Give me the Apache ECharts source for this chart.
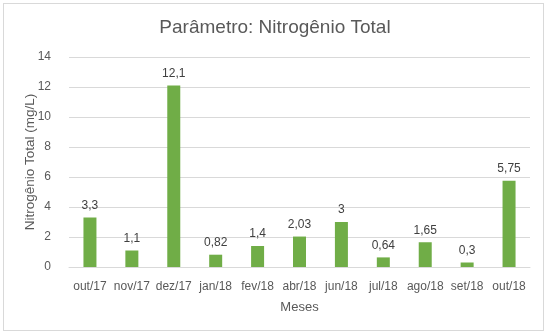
<!DOCTYPE html>
<html>
<head>
<meta charset="utf-8">
<script src="https://cdn.jsdelivr.net/npm/echarts@6/dist/echarts.min.js"></script>
<style>
  html, body { margin: 0; padding: 0; background: #fff; }
  #frame { position: absolute; left: 3px; top: 3px; width: 541px; height: 328px; border: 1px solid #D9D9D9; box-sizing: border-box; }
  #chart { width: 550px; height: 335px; position: absolute; left: 0; top: 0; }
</style>
</head>
<body>
<div id="frame"></div>
<div id="chart"></div>
<script>
// Monthly total nitrogen readings (mg/L)
const months = ['out/17', 'nov/17', 'dez/17', 'jan/18', 'fev/18', 'abr/18', 'jun/18', 'jul/18', 'ago/18', 'set/18', 'out/18'];
const nitrogen = [3.3, 1.1, 12.1, 0.82, 1.4, 2.03, 3, 0.64, 1.65, 0.3, 5.75];
const yTicks = [0, 2, 4, 6, 8, 10, 12, 14];

const font = '"Liberation Sans", Arial, sans-serif';
const chart = echarts.init(document.getElementById('chart'), null, { renderer: 'canvas' });

chart.setOption({
  animation: false,
  textStyle: { fontFamily: font },
  title: {
    text: 'Parâmetro: Nitrogênio Total',
    left: 'center',
    top: 13,
    textStyle: { fontFamily: font, fontSize: 19, fontWeight: 'normal', color: '#595959' }
  },
  grid: { left: 69, right: 20, top: 57, bottom: 68, containLabel: false },
  xAxis: {
    type: 'category',
    data: months,
    name: 'Meses',
    nameLocation: 'middle',
    nameGap: 34,
    nameMoveOverlap: false,
    nameTextStyle: { fontFamily: font, fontSize: 13, color: '#595959' },
    axisLine: { lineStyle: { color: '#D9D9D9' } },
    axisTick: { show: false },
    axisLabel: { fontFamily: font, fontSize: 12, color: '#595959', margin: 14, interval: 0 }
  },
  yAxis: {
    type: 'value',
    min: yTicks[0],
    max: yTicks[yTicks.length - 1],
    interval: 2,
    name: 'Nitrogênio Total (mg/L)',
    nameLocation: 'middle',
    nameGap: 32,
    nameMoveOverlap: false,
    nameTextStyle: { fontFamily: font, fontSize: 13.5, color: '#595959' },
    axisLine: { show: false },
    axisTick: { show: false },
    axisLabel: { fontFamily: font, fontSize: 12, color: '#595959', margin: 18 },
    splitLine: { lineStyle: { color: '#D9D9D9' } }
  },
  series: [{
    type: 'bar',
    data: nitrogen,
    barWidth: 13,
    itemStyle: { color: '#70AD47' },
    label: {
      show: true,
      position: 'top',
      distance: 6,
      fontFamily: font,
      fontSize: 12,
      color: '#404040',
      formatter: p => String(p.value).replace('.', ',')
    }
  }]
});
</script>
</body>
</html>
